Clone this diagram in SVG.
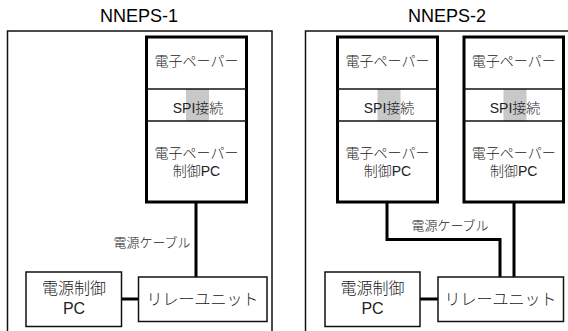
<svg xmlns="http://www.w3.org/2000/svg" width="568" height="331" viewBox="0 0 568 331">
<style>
text{font-family:"Liberation Sans","Noto Sans CJK JP",sans-serif;fill:#222;text-anchor:middle}
.title{font-size:18px;fill:#000}
.t14{font-size:14px;font-weight:300}
.t16{font-size:16px;font-weight:300}
.t13{font-size:13px;font-weight:300}
.frame{fill:#fff;stroke:#111;stroke-width:1.5}
.col{fill:#fff;stroke:#000;stroke-width:3}
.div{stroke:#111;stroke-width:1.5}
.spi{fill:#c8c8c8}
.box{fill:#fff;stroke:#111;stroke-width:1.5}
.wire{fill:none;stroke:#000;stroke-width:3}
</style>
<rect width="568" height="331" fill="#fff"/>
<g id="nneps1">
<text class="title" x="139" y="22">NNEPS-1</text>
<rect class="frame" x="7.5" y="31" width="264.5" height="310"/>
</g>
<g id="nneps2">
<text class="title" x="447" y="22">NNEPS-2</text>
<rect class="frame" x="305.5" y="31" width="280" height="310"/>
</g>
<g id="connectors">
<line class="wire" x1="196" y1="202" x2="196" y2="277"/>
<polyline class="wire" points="387,202 387,239.5 500,239.5 500,277"/>
<line class="wire" x1="514" y1="202" x2="514" y2="277"/>
<line class="wire" x1="122" y1="299" x2="138" y2="299"/>
<line class="wire" x1="420" y1="299" x2="438" y2="299"/>
<text class="t13" x="152" y="246.5">電源ケーブル</text>
<text class="t13" x="450" y="229.5">電源ケーブル</text>
</g>
<g id="col1">
<rect class="col" x="146.5" y="37" width="100" height="165"/>
<rect class="spi" x="186" y="89" width="23" height="32"/>
<line class="div" x1="146.5" y1="89" x2="246.5" y2="89"/>
<line class="div" x1="146.5" y1="121" x2="246.5" y2="121"/>
<text class="t14" x="196.5" y="66">電子ペーパー</text>
<text class="t14" x="198" y="113">SPI接続</text>
<text class="t14" x="196.5" y="158">電子ペーパー</text>
<text class="t14" x="196.5" y="175.5">制御PC</text>
</g>
<g id="col2">
<rect class="col" x="337.5" y="37" width="100" height="165"/>
<rect class="spi" x="377.5" y="89" width="23" height="32"/>
<line class="div" x1="337.5" y1="89" x2="437.5" y2="89"/>
<line class="div" x1="337.5" y1="121" x2="437.5" y2="121"/>
<text class="t14" x="387.5" y="66">電子ペーパー</text>
<text class="t14" x="389" y="113">SPI接続</text>
<text class="t14" x="387.5" y="158">電子ペーパー</text>
<text class="t14" x="387.5" y="175.5">制御PC</text>
</g>
<g id="col3">
<rect class="col" x="464" y="37" width="99.5" height="165"/>
<rect class="spi" x="503.5" y="89" width="23" height="32"/>
<line class="div" x1="464" y1="89" x2="563.5" y2="89"/>
<line class="div" x1="464" y1="121" x2="563.5" y2="121"/>
<text class="t14" x="513.75" y="66">電子ペーパー</text>
<text class="t14" x="515" y="113">SPI接続</text>
<text class="t14" x="513.75" y="158">電子ペーパー</text>
<text class="t14" x="513.75" y="175.5">制御PC</text>
</g>
<g id="pc1">
<rect class="box" x="26" y="272" width="95.5" height="54.5"/>
<text class="t16" x="74" y="293.5">電源制御</text>
<text class="t16" x="74" y="314">PC</text>
</g>
<g id="relay1">
<rect class="box" x="138.5" y="277" width="128.5" height="44.5"/>
<text class="t16" x="202.5" y="305">リレーユニット</text>
</g>
<g id="pc2">
<rect class="box" x="325" y="272" width="95" height="54.5"/>
<text class="t16" x="372.5" y="293.5">電源制御</text>
<text class="t16" x="372.5" y="314">PC</text>
</g>
<g id="relay2">
<rect class="box" x="438" y="277" width="125.5" height="44.5"/>
<text class="t16" x="500.5" y="305">リレーユニット</text>
</g>
</svg>
